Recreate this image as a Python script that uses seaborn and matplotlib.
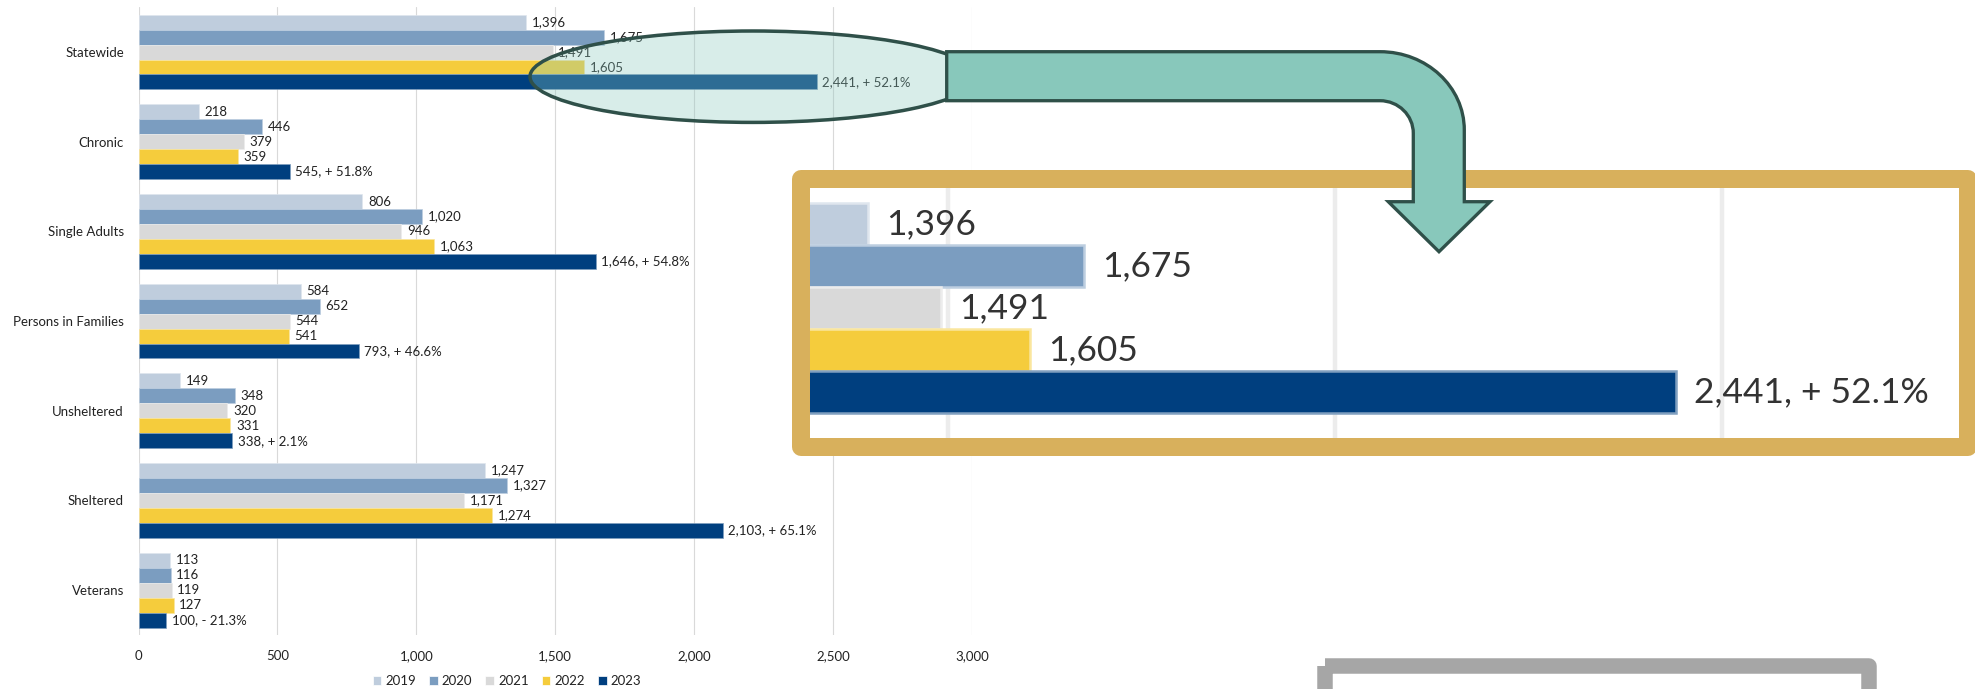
import matplotlib
matplotlib.use("Agg")
import matplotlib.pyplot as plt
import matplotlib.patches as mpatches
import matplotlib.transforms as mtransforms
from matplotlib.path import Path
import matplotlib.colors as mcolors
import numpy as np
import pandas as pd
import seaborn as sns

# ---- data -------------------------------------------------------------
categories = ["Statewide", "Chronic", "Single Adults", "Persons in Families",
              "Unsheltered", "Sheltered", "Veterans"]
years = ["2019", "2020", "2021", "2022", "2023"]
v2019 = [1396, 218, 806, 584, 149, 1247, 113]
v2020 = [1675, 446, 1020, 652, 348, 1327, 116]
v2021 = [1491, 379, 946, 544, 320, 1171, 119]
v2022 = [1605, 359, 1063, 541, 331, 1274, 127]
v2023 = [2441, 545, 1646, 793, 338, 2103, 100]
x_ticks = [0, 500, 1000, 1500, 2000, 2500, 3000]

palette = ["#BFCDDD", "#7B9DC0", "#D9D9D9", "#F5CC3C", "#003F7F"]

series = [v2019, v2020, v2021, v2022, v2023]
df = pd.DataFrame({
    "category": np.tile(categories, len(years)),
    "year": np.repeat(years, len(categories)),
    "value": np.concatenate(series),
})

# ---- style ------------------------------------------------------------
sns.set_theme(style="whitegrid")
plt.rcParams["font.family"] = ["Lato", "DejaVu Sans"]
TXT = "#222222"
FS = 9.5

W, H = 1975, 689
fig = plt.figure(figsize=(W / 100, H / 100), dpi=100)
fig.patch.set_facecolor("white")
# pixel coordinates measured from the top-left corner
pix = mtransforms.Affine2D().scale(1 / W, -1 / H).translate(0, 1) + fig.transFigure


def frac(x0, y0, x1, y1):
    return [x0 / W, 1 - y1 / H, (x1 - x0) / W, (y1 - y0) / H]


def lighten(c, f=0.45):
    r, g, b = mcolors.to_rgb(c)
    return (r + (1 - r) * f, g + (1 - g) * f, b + (1 - b) * f)


def label_texts(vals, idx):
    if idx < len(years) - 1:
        return [f"{v:,}" for v in vals]
    out = []
    for cur, prev in zip(v2023, v2022):
        pct = (cur - prev) / prev * 100
        sign = "+" if pct >= 0 else "-"
        out.append(f"{cur:,}, {sign} {abs(pct):.1f}%")
    return out


# ---- main chart -------------------------------------------------------
ax = fig.add_axes(frac(138.5, 7.2, 972, 635))
sns.barplot(data=df, y="category", x="value", hue="year", orient="h",
            palette=palette, saturation=1, width=5 / 6, ax=ax,
            linewidth=0.5, edgecolor="white", err_kws={"linewidth": 0})
for i, cont in enumerate(ax.containers):
    for p in cont.patches:
        p.set_edgecolor(lighten(palette[i], 0.5))
    ax.bar_label(cont, labels=label_texts(series[i], i), padding=4,
                 fontsize=FS, color=TXT)

ax.set_xlim(0, 3000)
ax.set_ylim(len(categories) - 0.5, -0.5)
ax.set_xticks(x_ticks)
ax.set_xticklabels([f"{t:,}" for t in x_ticks])
ax.set_xlabel("")
ax.set_ylabel("")
ax.grid(axis="x", color="#D9D9D9", linewidth=0.8)
ax.grid(axis="y", visible=False)
for s in ax.spines.values():
    s.set_visible(False)
ax.tick_params(axis="both", length=0, labelsize=FS, labelcolor=TXT)
ax.tick_params(axis="y", pad=10.5)
ax.tick_params(axis="x", pad=11)
ax.set_facecolor("white")

sns.move_legend(ax, loc="center", bbox_to_anchor=(507 / W, 1 - 681 / H),
                bbox_transform=fig.transFigure, ncol=5, frameon=False,
                title=None, handlelength=0.65, handleheight=0.75,
                handletextpad=0.3, columnspacing=1.0, fontsize=FS,
                borderaxespad=0, borderpad=0)
for t in ax.get_legend().get_texts():
    t.set_color(TXT)

# ---- enlarged view of the Statewide group -----------------------------
axz = fig.add_axes(frac(810, 187.7, 1959, 438.3))
sub = df[df["category"] == "Statewide"]
sns.barplot(data=sub, y="category", x="value", hue="year", orient="h",
            palette=palette, saturation=1, width=5 / 6, ax=axz, legend=False,
            linewidth=1.8, err_kws={"linewidth": 0})
for i, cont in enumerate(axz.containers):
    for p in cont.patches:
        p.set_edgecolor(lighten(palette[i], 0.5))
    axz.bar_label(cont, labels=label_texts(series[i], i)[:1], padding=13,
                  fontsize=25.5, color="#333333")
axz.set_xlim(1321, 2807)
axz.set_ylim(0.516, -0.4786)
axz.set_xticks([1500, 2000, 2500])
axz.set_yticks([])
axz.grid(axis="x", color="#ECECEC", linewidth=3.2)
axz.grid(axis="y", visible=False)
axz.tick_params(length=0, labelbottom=False, labelleft=False)
axz.set_xlabel("")
axz.set_ylabel("")
axz.set_facecolor("white")
for s in axz.spines.values():
    s.set_visible(False)

# gold frame around the enlarged view
fig.add_artist(mpatches.Rectangle((801, 178.5), 1968 - 801, 447.3 - 178.5,
                                  transform=pix, facecolor="none",
                                  edgecolor="#D8B05C", linewidth=18 * 0.72,
                                  joinstyle="round", zorder=3))

# grey frame at the lower right
fig.add_artist(mpatches.Rectangle((1324.5, 666), 1868.5 - 1324.5, 80,
                                  transform=pix, facecolor="none",
                                  edgecolor="#A6A6A6", linewidth=15.5 * 0.72,
                                  joinstyle="round", zorder=3))

# highlight ellipse over the Statewide 2023 bar
fig.add_artist(mpatches.Ellipse((753, 76.7), 446, 91.4, transform=pix,
                                facecolor=(0.54, 0.79, 0.75, 0.33),
                                edgecolor="#2F5049", linewidth=3.5 * 0.72,
                                zorder=4))

# bent arrow leading to the enlarged view
k = 0.5523
verts = [
    (946.7, 51.7), (1380, 51.7),
    (1380 + k * 84.3, 51.7), (1464.3, 130 - k * 78.3), (1464.3, 130),
    (1464.3, 201.7), (1490, 201.7), (1439, 251.7), (1388.3, 201.7),
    (1413.3, 201.7), (1413.3, 133.3),
    (1413.3, 133.3 - k * 32.6), (1380 + k * 33.3, 100.7), (1380, 100.7),
    (946.7, 100.7), (946.7, 51.7),
]
codes = ([Path.MOVETO, Path.LINETO]
         + [Path.CURVE4] * 3
         + [Path.LINETO] * 6
         + [Path.CURVE4] * 3
         + [Path.LINETO, Path.CLOSEPOLY])
fig.add_artist(mpatches.PathPatch(Path(verts, codes), transform=pix,
                                  facecolor="#88C8BB", edgecolor="#2F5049",
                                  linewidth=3.3 * 0.72, joinstyle="miter",
                                  zorder=5))

fig.savefig("out.png", dpi=100, facecolor="white")
